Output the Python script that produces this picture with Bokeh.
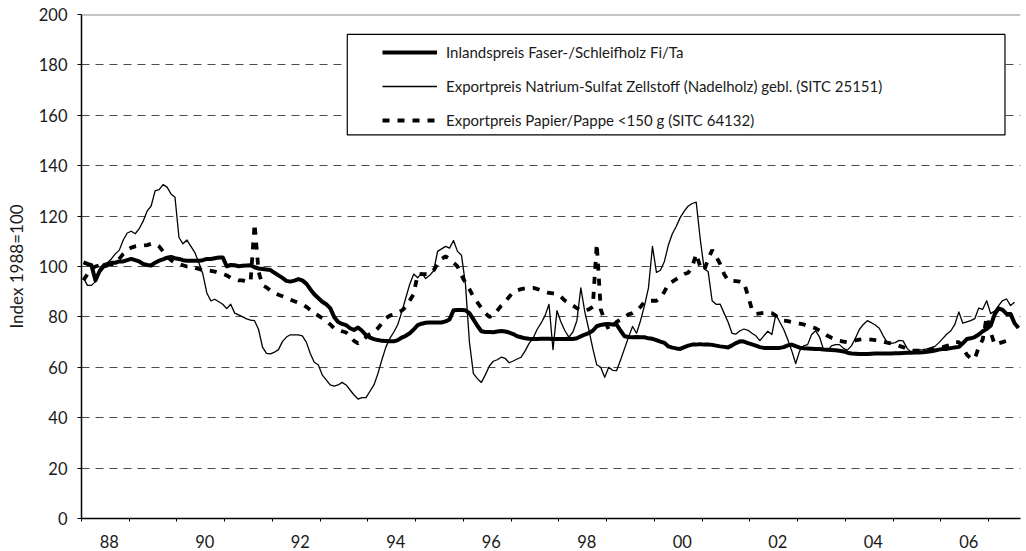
import numpy as np
from bokeh.plotting import figure
from bokeh.models import (Range1d, FixedTicker, Span, BoxAnnotation, Legend,
                          LegendItem, ColumnDataSource)
from bokeh.embed import file_html
from bokeh.resources import INLINE

nan = float("nan")

# Monthly index values, Jan 1988 .. Aug 2007 (1988=100)
inland = [
    101.6, 101, 100.5, 94.5, 98, 100, 100.5, 101.5, 101.5, 102, 102, 102.5,
    103, 102.5, 102, 101, 100.6, 100.4, 101.5, 102.3, 102.8, 103.5, 103.8, 103.3,
    103, 102.5, 102.3, 102.3, 102.3, 102.3, 102.5, 103, 103, 103.3, 103.6, 103.6,
    100.1, 100.6, 100.5, 100.1, 100.3, 100.4, 100.5, 99.7, 99.2, 99, 98.8, 98.6,
    97.5, 96.5, 95.5, 94.3, 94, 94.4, 95, 94.5, 93.2, 91, 89, 87.5,
    86, 85, 83.5, 80, 78, 77.2, 76.7, 75.5, 74.8, 75.8, 74.5, 72.8,
    71.8, 71.2, 70.8, 70.5, 70.4, 70.3, 70.3, 70.8, 71.8, 72.5, 73.5, 75,
    76.7, 77.3, 77.7, 77.8, 77.8, 77.8, 77.8, 78.2, 79, 82.6, 82.7, 82.7,
    82.6, 81.5, 79, 76.5, 74.3, 74, 74, 73.9, 74.2, 74.4, 74.2, 73.8,
    73.2, 72.3, 71.9, 71.5, 71.3, 71.2, 71.2, 71.3, 71.3, 71.3, 71.2, 71.2,
    71.2, 71.2, 71.3, 71.2, 71.5, 72.3, 73, 73.6, 74.5, 76.3, 76.8, 77.1,
    77.2, 77, 76.9, 74.5, 72.3, 72, 71.9, 72, 71.9, 71.9, 71.5, 71.3,
    70.8, 70.2, 69.7, 68.3, 67.8, 67.5, 67.3, 68, 68.6, 69, 69, 69.2,
    69, 69, 68.9, 68.6, 68.3, 68.1, 67.9, 68.7, 69.6, 70.3, 70.2, 69.6,
    69.1, 68.6, 68, 67.7, 67.7, 67.7, 67.7, 67.7, 68, 68.7, 69, 68.4,
    67.8, 67.6, 67.5, 67.4, 67.3, 67.3, 67.1, 67, 66.9, 66.8, 66.6, 66.3,
    65.8, 65.5, 65.4, 65.3, 65.3, 65.3, 65.4, 65.5, 65.5, 65.5, 65.5, 65.5,
    65.6, 65.6, 65.7, 65.8, 65.8, 65.9, 65.9, 66, 66.2, 66.4, 66.7, 67,
    67.3, 67.3, 67.6, 67.9, 68.1, 69.5, 71.2, 71.5, 72, 73, 74.3, 75.2,
    76.5, 81, 83.4, 82.8, 81.2, 81.2, 77.5, 75.6,
]

sulfat = [
    95.5, 92.5, 92.5, 94, 99, 101, 101.5, 103, 105, 106.5, 110.5, 113.3,
    114, 113, 115, 118, 122, 124, 130, 130.5, 132.5, 131.5, 128.8, 127.5,
    111.5, 109, 110.5, 108, 105.5, 101.5, 97, 89.5, 86.4, 87, 86, 85,
    83.3, 85, 81.5, 80.8, 80, 79.2, 78.7, 78.5, 75, 68, 65.5, 65.3,
    66, 67, 70.2, 72, 72.9, 72.9, 72.9, 72.5, 70, 65.5, 62, 61,
    57, 55, 53, 52.5, 53, 54, 53, 51, 49, 47.4, 48, 48,
    50.5, 53, 57.5, 63, 68, 71.5, 74, 77, 82, 87.5, 93, 97,
    95.5, 97.5, 95.2, 96.5, 98.3, 106, 107, 108, 107.3, 110.3, 106, 104.5,
    93, 70, 57.5, 55.5, 54, 57, 60.5, 62.4, 63, 64, 63.5, 61.8,
    62.5, 63.3, 64, 66.5, 69.5, 71.5, 75, 77.5, 80.5, 85, 67, 82.5,
    78, 74.5, 72, 74, 78.5, 91.5, 82, 75, 67.5, 61, 60, 56,
    60, 58.8, 58.7, 63, 67.5, 72, 76.2, 73.5, 78.5, 84.5, 91.5, 108,
    97.7, 98.5, 102, 108.5, 113, 116, 119.5, 122, 124, 125, 125.5, 111,
    99, 98, 86.4, 85, 85.1, 81.5, 78, 73.5, 73.2, 74.5, 75.2, 74.7,
    73.5, 72.5, 70.6, 72.5, 74.3, 73, 81, 78, 75, 71, 66.6, 61.5,
    66.5, 68.5, 69, 73, 74.5, 72, 67, 66.5, 68.5, 69, 69, 67.5,
    66.8, 68.5, 71.5, 75, 77, 78.5, 77.7, 76.8, 75.5, 72.5, 69.8, 69.5,
    69.8, 70.7, 70.5, 67.5, 66, 66.7, 66.9, 67, 67.3, 67.8, 68.3, 69.8,
    71.5, 73.2, 74.5, 77, 82, 77.5, 78, 78.5, 79.3, 83.5, 83, 86.4,
    81.3, 82.3, 84.5, 86.5, 87.1, 84.5, 85.8, nan,
]

papier = [
    94.5, 97, 99, 100, 100.5, 101, 101, 101, 101, 103, 105, 106.5,
    107.5, 108, 108.3, 108.3, 108.5, 109, 109, 108, 106, 104, 102.5, 101.5,
    101, 100.5, 100, 100, 99.5, 99, 98.5, 98.5, 98.3, 98, 97.5, 97,
    96.5, 95.5, 95, 94.5, 94.5, 94, 94, 117, 98, 92.5, 91.7, 90.5,
    89.5, 88.8, 88.2, 87.5, 86.8, 86.2, 85.6, 85, 84, 82.8, 81.5, 80.5,
    79.5, 78.5, 77, 75.5, 75, 74.3, 73.8, 72.5, 70.5, 69.5, 70.5, 72,
    73.2, 74, 75.5, 77.5, 79.5, 80.5, 81, 81.8, 82.5, 84, 86.5, 89.1,
    97, 97, 97, 97, 98.5, 101, 103, 104, 103, 101.5, 100, 96.5,
    93.5, 91, 88, 85.8, 83.5, 81.5, 80, 80.5, 82.5, 84.5, 86, 88,
    89.8, 90.5, 91, 91.3, 91.5, 91.5, 91.1, 90.5, 90, 89.5, 89.3, 89,
    88, 86.5, 85.5, 84.5, 83.5, 82.5, 82.5, 83, 84, 109, 83, 78.5,
    75, 76.5, 78, 79, 80, 81, 81.5, 82.5, 84, 86, 86.4, 86.4,
    86.4, 87.5, 90, 93, 94, 95, 96, 97, 97.5, 100, 105, 100,
    98.5, 103, 106.5, 104, 101, 97, 94.5, 94.4, 94.2, 94, 93.5, 88.5,
    83, 81.2, 81.4, 81.6, 81.8, 81.5, 80.5, 79.3, 78.5, 78.3, 78, 77.6,
    77.3, 77, 76.5, 76, 75.5, 74.5, 73.5, 72.5, 71.7, 71, 70.5, 70.2,
    69.9, 70.2, 70.7, 71, 71.2, 71.2, 71, 70.8, 70.6, 70.2, 69.8, 69.5,
    69, 68.5, 68, 67.3, 66.6, 66.6, 66.6, 66.6, 66.6, 67, 67.3, 67.6,
    68, 68.5, 69, 70, 70, 68, 65, 63.5, 63.3, 68, 71, 80,
    74, 69, 69.5, 70, 70.5, nan, nan, nan,
]

year_labels = ["88", "90", "92", "94", "96", "98", "00", "02", "04", "06"]
legend_labels = [
    "Inlandspreis Faser-/Schleifholz Fi/Ta",
    "Exportpreis Natrium-Sulfat Zellstoff (Nadelholz) gebl. (SITC 25151)",
    "Exportpreis Papier/Pappe <150 g (SITC 64132)",
]
y_title = "Index 1988=100"

n_months = len(inland)
months = np.arange(n_months) + 0.5
src = ColumnDataSource(dict(x=months, inland=inland, sulfat=sulfat, papier=papier))

FONT = "Lato"
TXT = "#1a1a1a"

p = figure(width=1026, height=551, output_backend="svg", toolbar_location=None,
           x_range=Range1d(0, n_months), y_range=Range1d(0, 200),
           min_border_left=81, min_border_right=6, min_border_top=14,
           min_border_bottom=33)
p.outline_line_color = None
p.background_fill_color = "white"
p.border_fill_color = "white"

# grid
p.xgrid.visible = False
p.ygrid.ticker = FixedTicker(ticks=list(range(20, 200, 20)))
p.ygrid.grid_line_color = "#4d4d4d"
p.ygrid.grid_line_dash = "8 6"
p.ygrid.grid_line_width = 1

# top border (solid gray at 200)
p.add_layout(Span(location=200, dimension="width", line_color="#8c8c8c", line_width=2))

# y axis
ya = p.yaxis[0]
ya.ticker = FixedTicker(ticks=list(range(0, 201, 20)))
ya.axis_line_color = "black"
ya.axis_line_width = 1.5
ya.major_tick_line_color = "black"
ya.major_tick_out = 4
ya.major_tick_in = 0
ya.minor_tick_line_color = None
ya.major_label_standoff = 10
ya.major_label_text_font = FONT
ya.major_label_text_font_size = "16.5px"
ya.major_label_text_color = TXT
ya.axis_label = y_title
ya.axis_label_text_font = FONT
ya.axis_label_text_font_size = "17px"
ya.axis_label_text_font_style = "normal"
ya.axis_label_text_color = TXT
ya.axis_label_standoff = 9

# x axis: year boundaries as small ticks, labels every two years
xa = p.xaxis[0]
label_pos = [k * 24 + 7 for k in range(len(year_labels))]
xa.ticker = FixedTicker(ticks=label_pos, minor_ticks=list(range(0, n_months, 12)))
xa.major_label_overrides = {pos: lab for pos, lab in zip(label_pos, year_labels)}
xa.axis_line_color = "black"
xa.axis_line_width = 1.5
xa.major_tick_line_color = None
xa.major_tick_out = 0
xa.major_tick_in = 0
xa.minor_tick_line_color = "black"
xa.minor_tick_out = 3
xa.minor_tick_in = 0
xa.major_label_standoff = 13
xa.major_label_text_font = FONT
xa.major_label_text_font_size = "16.5px"
xa.major_label_text_color = TXT

# data lines
r2 = p.line("x", "sulfat", source=src, line_color="black", line_width=1.3, line_join="round")
r3 = p.line("x", "papier", source=src, line_color="black", line_width=3.8, line_dash="7 8")
r1 = p.line("x", "inland", source=src, line_color="black", line_width=4, line_join="round")

box = BoxAnnotation(left=66.8, right=232.1, bottom=152.2, top=192.1,
                    fill_color="white", fill_alpha=1.0, line_color="black",
                    line_width=1.2, line_alpha=1.0)
p.add_layout(box)

legend = Legend(items=[LegendItem(label=legend_labels[0], renderers=[r1]),
                       LegendItem(label=legend_labels[1], renderers=[r2]),
                       LegendItem(label=legend_labels[2], renderers=[r3])],
                location=(301, 388), orientation="vertical",
                padding=0, margin=0, spacing=14,
                glyph_width=55, glyph_height=20, label_height=20,
                label_standoff=9, border_line_color=None,
                background_fill_alpha=0,
                label_text_font=FONT, label_text_font_size="15px",
                label_text_color=TXT)
p.add_layout(legend, "center")

open("out.html", "w").write(file_html(p, INLINE))
